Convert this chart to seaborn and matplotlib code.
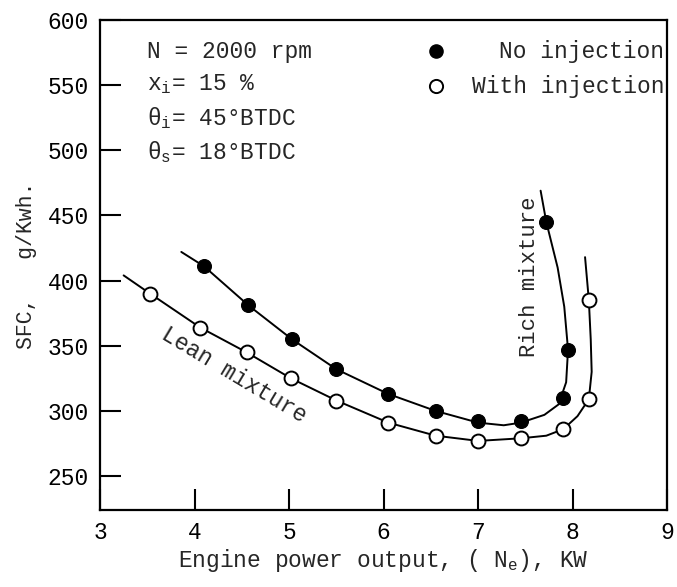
import matplotlib
matplotlib.use("Agg")
import matplotlib.pyplot as plt
import seaborn as sns
import pandas as pd

# Marker values
no_inj_x = [4.1, 4.57, 5.03, 5.5, 6.05, 6.55, 7.0, 7.45, 7.9, 7.95, 7.72]
no_inj_y = [411, 381, 355, 332, 313, 300, 292, 292, 310, 347, 445]
with_inj_x = [3.53, 4.06, 4.55, 5.02, 5.5, 6.05, 6.55, 7.0, 7.45, 7.9, 8.17, 8.17]
with_inj_y = [390, 364, 345, 325, 308, 291, 281, 277, 279, 286, 309, 385]

# Hand-drawn curves
no_inj_curve_x = [3.86, 4.1, 4.57, 5.03, 5.5, 6.05, 6.55, 7.0, 7.27, 7.45, 7.7, 7.85, 7.93, 7.95, 7.91, 7.84, 7.72, 7.66]
no_inj_curve_y = [422, 411, 381, 355, 332, 313, 300, 291, 289, 291, 297, 305, 322, 347, 380, 410, 445, 469]
with_inj_curve_x = [3.25, 3.53, 4.06, 4.55, 5.02, 5.5, 6.05, 6.55, 7.0, 7.45, 7.72, 7.9, 8.05, 8.17, 8.2, 8.19, 8.17, 8.13]
with_inj_curve_y = [404, 390, 364, 345, 325, 308, 291, 281, 277, 279, 281, 286, 296, 309, 330, 355, 385, 418]

x_ticks = [3, 4, 5, 6, 7, 8, 9]
y_ticks = [250, 300, 350, 400, 450, 500, 550, 600]

sns.set_theme(style="ticks")
plt.rcParams["font.family"] = ["Liberation Mono", "DejaVu Sans Mono"]
plt.rcParams["mathtext.fontset"] = "custom"
plt.rcParams["mathtext.rm"] = "Liberation Mono"
plt.rcParams["mathtext.it"] = "Liberation Mono"

fig = plt.figure(figsize=(6.77, 5.87), dpi=100)
ax = fig.add_axes([0.1477, 0.1312, 0.838, 0.8348])

c1 = pd.DataFrame({"x": no_inj_curve_x, "y": no_inj_curve_y})
c2 = pd.DataFrame({"x": with_inj_curve_x, "y": with_inj_curve_y})
sns.lineplot(data=c1, x="x", y="y", sort=False, estimator=None, color="black", lw=1.4, ax=ax)
sns.lineplot(data=c2, x="x", y="y", sort=False, estimator=None, color="black", lw=1.4, ax=ax)

sns.scatterplot(x=no_inj_x, y=no_inj_y, color="black", edgecolor="black",
                s=100, zorder=3, ax=ax)
sns.scatterplot(x=with_inj_x, y=with_inj_y, color="white", edgecolor="black",
                linewidth=1.4, s=100, zorder=3, ax=ax)

ax.set_xlim(3, 9)
ax.set_ylim(224, 600)
ax.set_xticks(x_ticks)
ax.set_yticks(y_ticks)
ax.tick_params(direction="in", length=15, width=1.5, labelsize=16.5, colors="black", pad=8)
for s in ax.spines.values():
    s.set_linewidth(1.6)
    s.set_color("black")

ax.set_xlabel("Engine power output, ( N$_{e}$), KW", fontsize=16.5, labelpad=2)
ax.set_ylabel("SFC,   g/Kwh.", fontsize=15.5, labelpad=8)

# Conditions text
ax.text(3.5, 576, "N = 2000 rpm", fontsize=16.5, va="center")
ax.text(3.5, 551, "x$_{i}$= 15 %", fontsize=16.5, va="center")
ax.text(3.5, 525, "\u03b8$_{i}$= 45\u00b0BTDC", fontsize=16.5, va="center")
ax.text(3.5, 499, "\u03b8$_{s}$= 18\u00b0BTDC", fontsize=16.5, va="center")

# Legend drawn by hand
ax.scatter([6.55], [576], s=90, color="black", zorder=3)
ax.scatter([6.55], [549], s=90, facecolor="white", edgecolor="black", linewidths=1.4, zorder=3)
ax.text(8.97, 576, "No injection", fontsize=16.5, va="center", ha="right")
ax.text(8.97, 549, "With injection", fontsize=16.5, va="center", ha="right")

ax.text(4.42, 328, "Lean mixture", fontsize=16.5, rotation=-31, ha="center", va="center")
ax.text(7.54, 403, "Rich mixture", fontsize=16, rotation=90, ha="center", va="center")

fig.savefig("out.png", dpi=100)
